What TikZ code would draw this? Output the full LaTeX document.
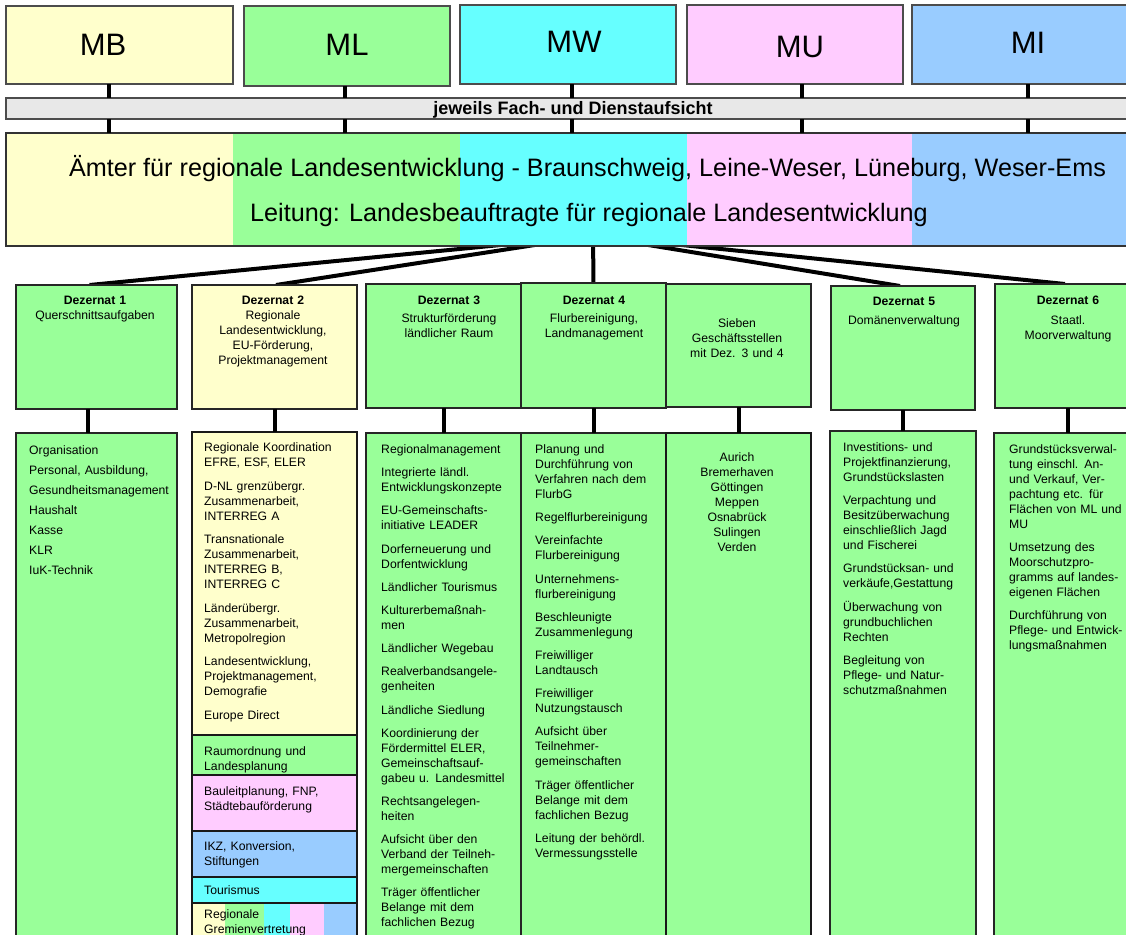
\documentclass[tikz,border=0pt]{standalone}
\usepackage{fontspec}
\setmainfont{Liberation Sans}
\definecolor{ye}{HTML}{FFFFCC}
\definecolor{gr}{HTML}{99FF99}
\definecolor{cy}{HTML}{66FFFF}
\definecolor{pk}{HTML}{FFCCFF}
\definecolor{bl}{HTML}{99CCFF}
\definecolor{barg}{HTML}{E8E8E8}
\pgfdeclarelayer{bg}
\pgfsetlayers{bg,main}
\newcommand\bx[6]{\node[#6, anchor=north west, inner sep=0pt, outer sep=0pt, minimum width={#4pt-#2pt}, minimum height={#5pt-#3pt}] (#1) at (#2,#3) {};}
\newcommand\smf{\fontsize{12.2}{15}\selectfont}
\begin{document}
\begin{tikzpicture}[x=1pt,y=-1pt,
  topbox/.style={draw=black!70,line width=1.3pt},
  dezbox/.style={draw=black!85,line width=1.4pt},
  cbox/.style={draw=black!85,line width=1.5pt},
  cboxb/.style={draw=black!90,line width=2.2pt},
  conn/.style={line width=4pt},
  toplbl/.style={font=\fontsize{31}{31}\selectfont,inner sep=0pt},
  big/.style={font=\fontsize{25.2}{26}\selectfont,inner sep=0pt,anchor=base},
  hdr/.style={font=\smf,inner sep=0pt,anchor=base,text width=160pt,align=center},
  lst/.style={font=\smf,inner sep=0pt,anchor=base west,text width=200pt,align=left}]
\useasboundingbox (0,0) rectangle (1126,934);
\clip (0,0) rectangle (1126,934);

% ministries
\bx{mb}{6}{6}{233}{84}{topbox,fill=ye}
\bx{ml}{244}{6}{450}{86}{topbox,fill=gr}
\bx{mw}{460}{5}{676}{84}{topbox,fill=cy}
\bx{mu}{687}{5}{903}{84}{topbox,fill=pk}
\bx{mi}{912}{5}{1150}{84}{topbox,fill=bl}
\node[toplbl] (mbl) at (103,45) {MB};
\node[toplbl] (mll) at (347,45) {ML};
\node[toplbl] (mwl) at (574,42) {MW};
\node[toplbl] (mul) at (800,47) {MU};
\node[toplbl] (mil) at (1028,43) {MI};

\coordinate (xa) at (109,0);
\coordinate (xb) at (345,0);
\coordinate (xc) at (572,0);
\coordinate (xd) at (802,0);
\coordinate (xe) at (1028,0);

% supervision bar
\bx{bar}{6}{98}{1150}{119}{topbox,fill=barg}
\node[font=\bfseries\fontsize{18}{18}\selectfont,inner sep=0pt,anchor=base] (bart) at (573,114) {jeweils Fach- und Dienstaufsicht};

% offices box
\fill[ye] (6,133) rectangle (233,246);
\fill[gr] (233,133) rectangle (460,246);
\fill[cy] (460,133) rectangle (687,246);
\fill[pk] (687,133) rectangle (912,246);
\fill[bl] (912,133) rectangle (1150,246);
\bx{amt}{6}{133}{1150}{246}{draw=black!80,line width=1.5pt}
\node[big] (amt1) at (587.5,176) {Ämter für regionale Landesentwicklung - Braunschweig, Leine-Weser, Lüneburg, Weser-Ems};
\node[big] (amt2) at (589,221) {Leitung: Landesbeauftragte für regionale Landesentwicklung};

\foreach \t/\c in {mb/xa,ml/xb,mw/xc,mu/xd,mi/xe}{
  \draw[conn] (\t.south -| \c) -- (bar.north -| \c);
  \draw[conn] (bar.south -| \c) -- (amt.north -| \c);
}

% Dezernate
\bx{d1}{16}{285}{177}{409}{dezbox,fill=gr}
\bx{d2}{192}{285}{357}{409}{dezbox,fill=ye}
\bx{d3}{366}{284}{532}{408}{dezbox,fill=gr}
\bx{d4}{521}{283}{666}{408}{dezbox,fill=gr}
\bx{d7}{666}{284}{811}{407}{dezbox,fill=gr}
\bx{d5}{831}{286}{975}{410}{dezbox,fill=gr}
\bx{d6}{995}{284}{1141}{408}{dezbox,fill=gr}

\coordinate (hub) at (593,236);
\begin{pgfonlayer}{bg}
\draw[conn] (hub) -- ([xshift=-7pt]d1.north);
\draw[conn] (hub) -- ([xshift=1.5pt]d2.north);
\draw[conn] (hub) -- (d4.north);
\draw[conn] (hub) -- ([xshift=-3pt]d5.north);
\draw[conn] (hub) -- ([xshift=-3pt]d6.north);
\end{pgfonlayer}

\node[hdr] (h1) at (95,304) {\textbf{Dezernat 1}\\Querschnittsaufgaben};
\node[hdr] (h2) at (273,304) {\textbf{Dezernat 2}\\Regionale\\Landesentwicklung,\\EU-Förderung,\\Projektmanagement};
\node[hdr] (h3) at (449,304) {\textbf{Dezernat 3}\\[3pt]Strukturförderung\\ländlicher Raum};
\node[hdr] (h4) at (594,304) {\textbf{Dezernat 4}\\[3pt]Flurbereinigung,\\Landmanagement};
\node[hdr] (h7) at (737,327) {Sieben\\Geschäftsstellen\\mit Dez. 3 und 4};
\node[hdr] (h5) at (904,305) {\textbf{Dezernat 5}\\[4pt]Domänenverwaltung};
\node[hdr] (h6) at (1068,304) {\textbf{Dezernat 6}\\[5pt]Staatl.\\Moorverwaltung};

% content boxes
\bx{c1}{16}{433}{177}{960}{cbox,fill=gr}
\bx{c2}{192}{432}{357}{735}{cboxb,fill=ye}
\bx{c2a}{192}{735}{357}{775}{cboxb,fill=gr}
\bx{c2b}{192}{775}{357}{831}{cboxb,fill=pk}
\bx{c2c}{192}{831}{357}{877}{cboxb,fill=bl}
\bx{c2d}{192}{877}{357}{903}{cboxb,fill=cy}
\fill[ye] (192,903) rectangle (225,960);
\fill[gr] (225,903) rectangle (264,960);
\fill[cy] (264,903) rectangle (290,960);
\fill[pk] (290,903) rectangle (324,960);
\fill[bl] (324,903) rectangle (357,960);
\bx{c2e}{192}{903}{357}{960}{cboxb}
\bx{c3}{366}{433}{521}{960}{cbox,fill=gr}
\bx{c4}{521}{433}{666}{960}{cbox,fill=gr}
\bx{c7}{666}{433}{811}{960}{cboxb,fill=gr}
\bx{c5}{830}{431}{976}{960}{cbox,fill=gr}
\bx{c6}{994}{433}{1141}{960}{cbox,fill=gr}

\draw[conn] ([xshift=-8.5pt]d1.south) -- ([xshift=-8.5pt]d1.south |- c1.north);
\draw[conn] (d2.south) -- (d2.south |- c2.north);
\draw[conn] (d3.south -| c3.north) -- (c3.north);
\draw[conn] (d4.south) -- (d4.south |- c4.north);
\draw[conn] (d7.south) -- (d7.south |- c7.north);
\draw[conn] (d5.south) -- (d5.south |- c5.north);
\draw[conn] (d6.south) -- (d6.south |- c6.north);

% texts
\node[lst] (t1) at (29,454.5) {\setlength\parskip{5pt}Organisation\par Personal, Ausbildung,\par Gesundheitsmanagement\par Haushalt\par Kasse\par KLR\par IuK-Technik};

\node[lst] (t2) at (204,451.5) {\setlength\parskip{8.5pt}Regionale Koordination\\EFRE, ESF, ELER\par D-NL grenzübergr.\\Zusammenarbeit,\\INTERREG A\par Transnationale\\Zusammenarbeit,\\INTERREG B,\\INTERREG C\par Länderübergr.\\Zusammenarbeit,\\Metropolregion\par Landesentwicklung,\\Projektmanagement,\\Demografie\par Europe Direct};
\node[lst] (t2a) at (204,755.5) {Raumordnung und\\Landesplanung};
\node[lst] (t2b) at (204,795.5) {Bauleitplanung, FNP,\\Städtebauförderung};
\node[lst] (t2c) at (204,850.5) {IKZ, Konversion,\\Stiftungen};
\node[lst] (t2d) at (204,894.5) {Tourismus};
\node[lst] (t2e) at (204,918.5) {Regionale\\Gremienvertretung};

\node[lst] (t3) at (381,453.5) {\setlength\parskip{8.2pt}Regionalmanagement\par Integrierte ländl.\\Entwicklungskonzepte\par EU-Gemeinschafts-\\initiative LEADER\par Dorferneuerung und\\Dorfentwicklung\par Ländlicher Tourismus\par Kulturerbemaßnah-\\men\par Ländlicher Wegebau\par Realverbandsangele-\\genheiten\par Ländliche Siedlung\par Koordinierung der\\Fördermittel ELER,\\Gemeinschaftsauf-\\gabeu u. Landesmittel\par Rechtsangelegen-\\heiten\par Aufsicht über den\\Verband der Teilneh-\\mergemeinschaften\par Träger öffentlicher\\Belange mit dem\\fachlichen Bezug};

\node[lst] (t4) at (535,453.5) {\setlength\parskip{8.2pt}Planung und\\Durchführung von\\Verfahren nach dem\\FlurbG\par Regelflurbereinigung\par Vereinfachte\\Flurbereinigung\par Unternehmens-\\flurbereinigung\par Beschleunigte\\Zusammenlegung\par Freiwilliger\\Landtausch\par Freiwilliger\\Nutzungstausch\par Aufsicht über\\Teilnehmer-\\gemeinschaften\par Träger öffentlicher\\Belange mit dem\\fachlichen Bezug\par Leitung der behördl.\\Vermessungsstelle};

\node[hdr] (t7) at (737,461.5) {Aurich\\Bremerhaven\\Göttingen\\Meppen\\Osnabrück\\Sulingen\\Verden};

\node[lst] (t5) at (843,451.5) {\setlength\parskip{8.2pt}Investitions- und\\Projektfinanzierung,\\Grundstückslasten\par Verpachtung und\\Besitzüberwachung\\einschließlich Jagd\\und Fischerei\par Grundstücksan- und\\verkäufe,Gestattung\par Überwachung von\\grundbuchlichen\\Rechten\par Begleitung von\\Pflege- und Natur-\\schutzmaßnahmen};

\node[lst] (t6) at (1009,453.5) {\setlength\parskip{8.2pt}Grundstücksverwal-\\tung einschl. An-\\und Verkauf, Ver-\\pachtung etc. für\\Flächen von ML und\\MU\par Umsetzung des\\Moorschutzpro-\\gramms auf landes-\\eigenen Flächen\par Durchführung von\\Pflege- und Entwick-\\lungsmaßnahmen};
\end{tikzpicture}
\end{document}
